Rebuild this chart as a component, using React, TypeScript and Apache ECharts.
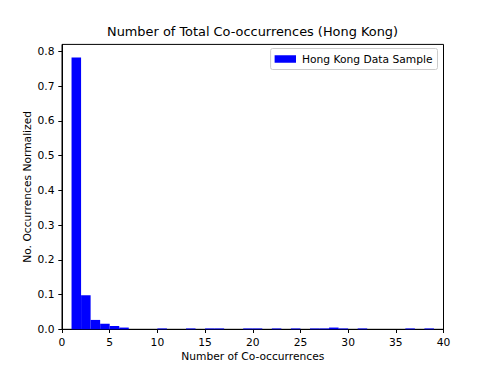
import React, { useEffect, useRef } from "react";
import * as echarts from "echarts";

const binStarts = [1,2,3,4,5,6,7,8,9,10,11,12,13,14,15,16,17,18,19,20,21,22,23,24,25,26,27,28,29,30,31,32,33,34,35,36,37,38,39];
const binValues = [
  0.782, 0.098, 0.027, 0.016, 0.0095, 0.005, 0, 0, 0, 0.0025,
  0, 0, 0.0025, 0, 0.0025, 0.0025, 0, 0, 0.0025, 0.0025,
  0, 0.0025, 0, 0.0025, 0, 0.0025, 0.0025, 0.005, 0.0025, 0,
  0.0025, 0, 0, 0, 0, 0.0025, 0, 0.0025, 0,
];
const binWidth = 1;
const xTicks = [0, 5, 10, 15, 20, 25, 30, 35, 40];
const seriesName = "Hong Kong Data Sample";
const titleText = "Number of Total Co-occurrences (Hong Kong)";
const xLabel = "Number of Co-occurrences";
const yLabel = "No. Occurrences Normalized";

const FONT = "DejaVu Sans";

export default function App() {
  const ref = useRef<HTMLDivElement>(null);
  useEffect(() => {
    if (!ref.current) return;
    const chart = echarts.init(ref.current, null, { renderer: "svg" });
    const data = binStarts.map((s, i) => [s, binValues[i]]).filter((d) => d[1] > 0);
    chart.setOption({
      animation: false,
      backgroundColor: "#fff",
      textStyle: { fontFamily: FONT },
      graphic: [
        {
          type: "text",
          x: 252.5,
          y: 37.6,
          style: {
            text: titleText,
            fontFamily: FONT,
            fontSize: 12.9,
            fill: "#000",
            textAlign: "center",
            textVerticalAlign: "bottom",
          },
        },
      ],
      legend: {
        data: [{ name: seriesName, icon: "rect" }],
        right: 55.5,
        top: 48.5,
        itemWidth: 21.4,
        itemHeight: 7.5,
        padding: [5, 5, 5, 4],
        borderColor: "#cccccc",
        borderWidth: 1,
        borderRadius: 2,
        backgroundColor: "rgba(255,255,255,0.8)",
        textStyle: { fontFamily: FONT, fontSize: 10.7, color: "#000", padding: [0, 0, 0, 1] },
      },
      grid: {
        left: 62,
        right: 49.5,
        top: 44.4,
        bottom: 40.7,
        show: true,
        borderColor: "#000",
        borderWidth: 1,
        backgroundColor: "transparent",
      },
      xAxis: {
        type: "value",
        min: 0,
        max: 40,
        interval: 5,
        name: xLabel,
        nameLocation: "middle",
        nameGap: 22,
        nameMoveOverlap: false,
        nameTextStyle: { fontFamily: FONT, fontSize: 10.7, color: "#000" },
        axisLine: { show: true, onZero: false, lineStyle: { color: "#000", width: 1 } },
        axisTick: { show: true, length: 3.7, lineStyle: { color: "#000" } },
        axisLabel: {
          margin: 7.5,
          fontFamily: FONT,
          fontSize: 10.7,
          color: "#000",
          formatter: (v: number) => (xTicks.includes(v) ? String(v) : ""),
        },
        splitLine: { show: false },
      },
      yAxis: {
        type: "value",
        min: 0,
        max: 0.82,
        interval: 0.1,
        name: yLabel,
        nameLocation: "middle",
        nameGap: 29,
        nameMoveOverlap: false,
        nameTextStyle: { fontFamily: FONT, fontSize: 10.7, color: "#000" },
        axisLine: { show: true, lineStyle: { color: "#000", width: 1 } },
        axisTick: { show: true, length: 3.7, lineStyle: { color: "#000" } },
        axisLabel: {
          margin: 7.5,
          fontFamily: FONT,
          fontSize: 10.7,
          color: "#000",
          showMaxLabel: false,
          formatter: (v: number) => v.toFixed(1),
        },
        splitLine: { show: false },
      },
      series: [
        {
          name: seriesName,
          type: "custom",
          itemStyle: { color: "#0000ff" },
          encode: { x: 0, y: 1 },
          data,
          renderItem: (params: any, api: any) => {
            const x0 = api.value(0);
            const v = api.value(1);
            const p0 = api.coord([x0, 0]);
            const p1 = api.coord([x0 + binWidth, v]);
            return {
              type: "rect",
              shape: { x: p0[0], y: p1[1], width: p1[0] - p0[0], height: p0[1] - p1[1] },
              style: { fill: "#0000ff" },
            };
          },
        },
      ],
    });
    return () => chart.dispose();
  }, []);
  return (
    <div
      ref={ref}
      style={{ position: "fixed", left: 0, top: 0, width: 493, height: 370 }}
    />
  );
}
